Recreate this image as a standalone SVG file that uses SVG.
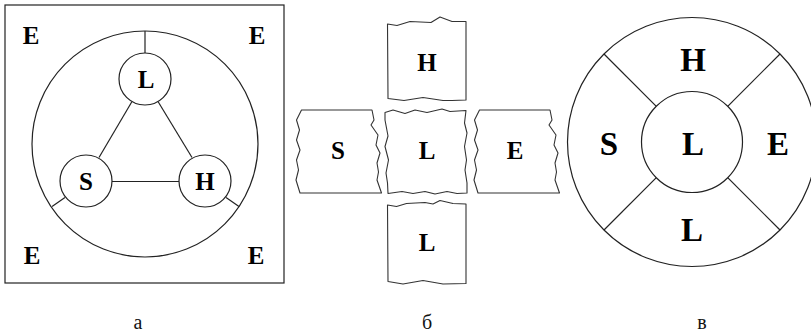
<svg xmlns="http://www.w3.org/2000/svg" width="811" height="335" viewBox="0 0 811 335">
  <style>
    .ln { fill: none; stroke: #222; stroke-width: 1.2; }
    .nd { fill: #fff; stroke: #222; stroke-width: 1.2; }
    .tile { fill: #fff; stroke: #333; stroke-width: 1.1; stroke-linejoin: round; }
    .lb { font-family: "Liberation Serif", "Times New Roman", serif; font-weight: bold; font-size: 25px; fill: #000; text-anchor: middle; }
    .lbc { font-family: "Liberation Serif", "Times New Roman", serif; font-weight: bold; font-size: 33px; fill: #000; text-anchor: middle; }
    .cap { font-family: "Liberation Serif", "Times New Roman", serif; font-size: 20px; fill: #111; text-anchor: middle; }
  </style>
  <defs>
    <polygon id="sideTile" points="301.5,110 372,110 374,120 371,125 378,135 376,145 380,153 377,163 378.5,172 377,180 381.5,193 300,193 296,180 298.5,170 296.5,160 300,150 296.5,140 299.5,130 296.5,120"/>
  </defs>

  <rect width="811" height="335" fill="#fff"/>

  <!-- panel a: cell in the environment -->
  <g id="panel-a">
    <rect class="ln" x="5" y="5" width="279" height="278"/>
    <circle class="ln" cx="145" cy="144" r="113"/>
    <text class="lb" x="31" y="44">E</text>
    <text class="lb" x="257" y="44">E</text>
    <text class="lb" x="32" y="264">E</text>
    <text class="lb" x="256" y="264">E</text>
  </g>
  <g id="connectors-a">
    <line class="ln" x1="145" y1="31" x2="145" y2="53"/>
    <line class="ln" x1="65" y1="197.5" x2="52" y2="206.5"/>
    <line class="ln" x1="226" y1="197.5" x2="239" y2="206.5"/>
    <line class="ln" x1="132" y1="101.5" x2="99" y2="157.5"/>
    <line class="ln" x1="158" y1="101.5" x2="192" y2="157.5"/>
    <line class="ln" x1="112" y1="181.5" x2="179" y2="181.5"/>
  </g>
  <g id="node-a-L">
    <circle class="nd" cx="145" cy="79" r="26"/>
    <text class="lb" x="146" y="88">L</text>
  </g>
  <g id="node-a-S">
    <circle class="nd" cx="86" cy="181" r="26"/>
    <text class="lb" x="86" y="190">S</text>
  </g>
  <g id="node-a-H">
    <circle class="nd" cx="205" cy="181" r="26"/>
    <text class="lb" x="205" y="190">H</text>
  </g>

  <!-- panel b: torn tiles -->
  <g id="tile-b-H">
    <polygon class="tile" points="387.5,24 397,25.5 410,21.5 431,22.5 440,17 452,21.5 466,21.5 466,100 452,100.5 443,100.5 423,97.5 404,100.5 388,98.5"/>
    <text class="lb" x="427" y="71">H</text>
  </g>
  <g id="tile-b-S">
    <use href="#sideTile" class="tile"/>
    <text class="lb" x="338" y="159">S</text>
  </g>
  <g id="tile-b-Lc">
    <polygon class="tile" points="385,112.5 393,110 405,113.5 415,110 427,112.5 442,109 450,111.5 466,110.5 464.5,123 467,133 464.5,146.5 466.5,160 465,170 467,183 467,193 457,193.5 447,191.5 435,194 425,191.5 413,193.5 402,191.5 388,193.5 387.5,183 386,173 388.5,160 385,146.5 388,136 385,120"/>
    <text class="lb" x="427" y="159">L</text>
  </g>
  <g id="tile-b-E">
    <use href="#sideTile" class="tile" transform="translate(178 0)"/>
    <text class="lb" x="515" y="159">E</text>
  </g>
  <g id="tile-b-Lb">
    <polygon class="tile" points="387.5,205 396.5,206.5 406.5,203.5 425,202.5 433,204 440,200.5 453,203.5 466,204 466,283.5 443,284 423,280.5 403,284 388,281.5"/>
    <text class="lb" x="427" y="251">L</text>
  </g>

  <!-- panel c: ring sectors -->
  <g id="panel-c">
    <circle class="ln" cx="692" cy="142" r="124.5"/>
  </g>
  <g id="connectors-c">
    <line class="ln" x1="656.3" y1="106.3" x2="604" y2="54"/>
    <line class="ln" x1="727.7" y1="106.3" x2="780" y2="54"/>
    <line class="ln" x1="656.3" y1="177.7" x2="604" y2="230"/>
    <line class="ln" x1="727.7" y1="177.7" x2="780" y2="230"/>
  </g>
  <g id="node-c-L">
    <circle class="nd" cx="692" cy="142" r="50.5"/>
    <text class="lbc" x="693" y="155">L</text>
  </g>
  <g id="node-c-H"><text class="lbc" x="693" y="71">H</text></g>
  <g id="node-c-S"><text class="lbc" x="609" y="155">S</text></g>
  <g id="node-c-E"><text class="lbc" x="778" y="155">E</text></g>
  <g id="node-c-Lb"><text class="lbc" x="692" y="241">L</text></g>

  <!-- panel captions -->
  <text class="cap" x="138" y="329">а</text>
  <text class="cap" x="427" y="329">б</text>
  <text class="cap" x="702" y="329">в</text>
</svg>
